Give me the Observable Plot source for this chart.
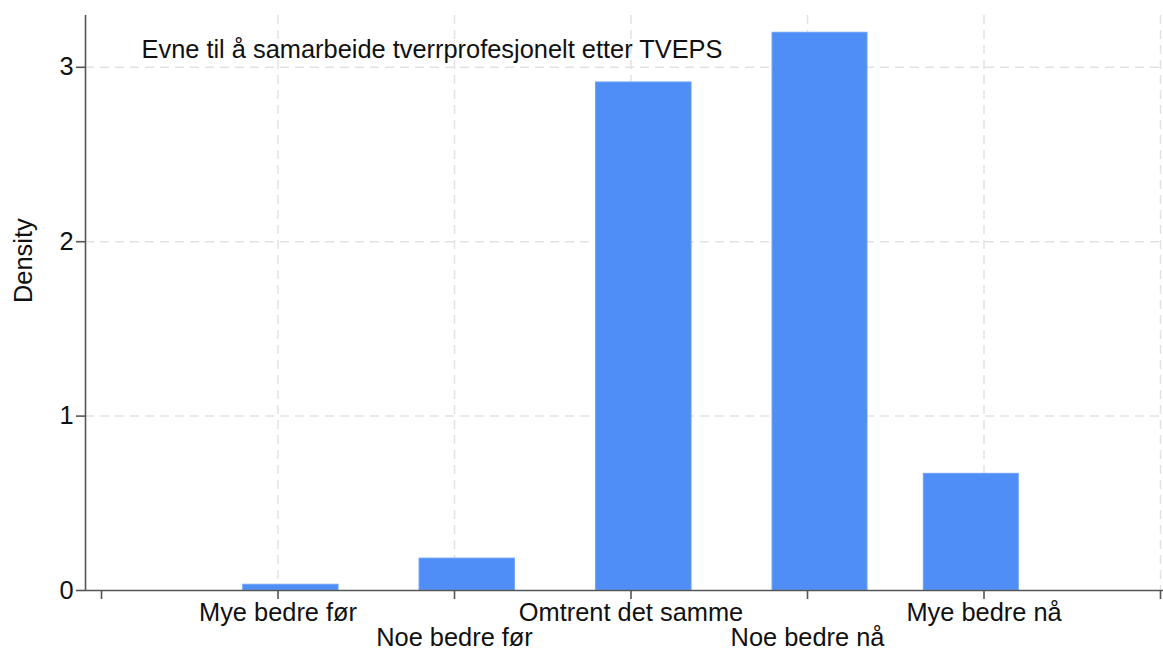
<!DOCTYPE html>
<html>
<head>
<meta charset="utf-8">
<script src="https://cdn.jsdelivr.net/npm/d3@7"></script>
<script src="https://cdn.jsdelivr.net/npm/@observablehq/plot@0.6"></script>
<style>
  html, body { margin: 0; padding: 0; background: #fff; }
  #chart svg { display: block; }
</style>
</head>
<body>
<div id="chart"></div>
<script>
// Data
const categories = ["Mye bedre før", "Noe bedre før", "Omtrent det samme", "Noe bedre nå", "Mye bedre nå"];
const density    = [0.033, 0.183, 2.913, 3.198, 0.669];
const binStart   = [0.803, 1.802, 2.802, 3.802, 4.659];
const binEnd     = [1.343, 2.342, 3.343, 4.340, 5.197];
const xTicks     = [0, 1, 2, 3, 4, 5, 6];
const yTicks     = [0, 1, 2, 3];
const titleText  = "Evne til å samarbeide tverrprofesjonelt etter TVEPS";
const yLabel     = "Density";

const bars = categories.map((c, i) => ({category: c, x1: binStart[i], x2: binEnd[i], y: density[i]}));
const xDomain = [-0.0907, 6.017];
const yDomain = [0, 3.297];

const font = "Helvetica, 'Liberation Sans', Arial, sans-serif";
const gridStyle = {stroke: "#e2e2e2", strokeOpacity: 1, strokeWidth: 1.5, strokeDasharray: "9,6"};

const chart = Plot.plot({
  width: 1163,
  height: 652,
  marginLeft: 85,
  marginRight: 0,
  marginTop: 15,
  marginBottom: 62,
  style: {fontSize: "25.4px", fontFamily: font, color: "#111", background: "#fff"},
  x: {domain: xDomain, label: null},
  y: {domain: yDomain, label: null},
  marks: [
    Plot.gridY({ticks: yTicks.filter(d => d > 0), ...gridStyle}),
    Plot.gridX({ticks: xTicks.filter(d => d > 0), ...gridStyle}),
    Plot.rectY(bars, {x1: "x1", x2: "x2", y: "y", fill: "#4f8ef6", stroke: "#6ba1f8", strokeWidth: 1}),
    Plot.ruleY([0], {stroke: "#555", strokeWidth: 1.6}),
    Plot.ruleX([xDomain[0]], {stroke: "#555", strokeWidth: 1.6}),
    Plot.axisY({ticks: yTicks, tickSize: 9, tickPadding: 3, tickFormat: d => String(d), stroke: "#555", strokeWidth: 1.6, label: null, fontSize: 25.4}),
    Plot.axisX({ticks: xTicks, tickSize: 9, tickFormat: () => "", stroke: "#555", strokeWidth: 1.6, label: null}),
    Plot.axisX({ticks: [1, 3, 5], tickSize: 0, tickPadding: 12, tickFormat: d => categories[d - 1], label: null, fontSize: 25.4}),
    Plot.axisX({ticks: [2, 4], tickSize: 0, tickPadding: 37, tickFormat: d => categories[d - 1], label: null, fontSize: 25.4}),
    Plot.text([titleText], {text: d => d, frameAnchor: "top-left", lineAnchor: "bottom", textAnchor: "start", dx: 56, dy: 42, fontSize: 25.4, fill: "#111"}),
    Plot.text([yLabel], {text: d => d, frameAnchor: "left", rotate: -90, dx: -62, fontSize: 25.4, fill: "#111"})
  ]
});
document.getElementById("chart").appendChild(chart);
</script>
</body>
</html>
